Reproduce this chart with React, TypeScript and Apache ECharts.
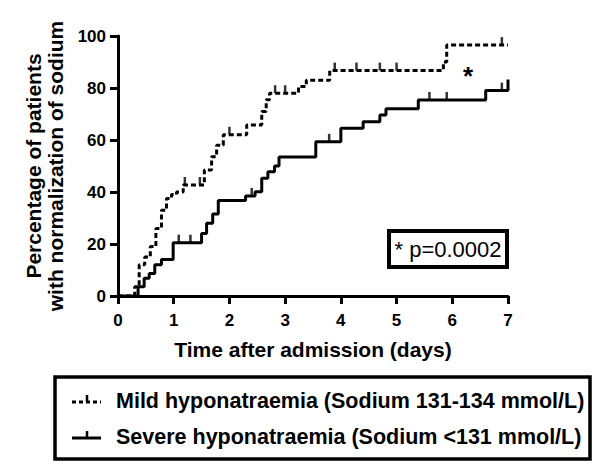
import React, { useEffect, useRef } from "react";
import * as echarts from "echarts";

// Mild hyponatraemia (dashed): event times (days) and cumulative % normalised
const mildTimes = [0, 0.3, 0.38, 0.48, 0.58, 0.68, 0.78, 0.87, 0.96, 1.05, 1.17, 1.55, 1.68, 1.77, 1.89, 2.31, 2.58, 2.66, 2.72, 3.24, 3.38, 3.8, 5.84, 5.9, 7.0];
const mildPct = [0, 3.6, 12, 15, 19, 26, 33, 37.5, 39, 40, 42.7, 48.5, 53.6, 58, 62, 65.8, 71, 75.5, 78, 80.6, 83, 86.7, 90, 96.5, 96.5];
const mildCensor = [1.2, 1.47, 2.0, 2.82, 3.0, 3.89, 4.28, 4.7, 5.0, 6.89];

// Severe hyponatraemia (solid)
const severeTimes = [0, 0.36, 0.47, 0.56, 0.66, 0.78, 0.99, 1.5, 1.59, 1.7, 1.8, 2.29, 2.46, 2.58, 2.69, 2.81, 2.89, 3.55, 4.0, 4.4, 4.7, 4.81, 5.39, 6.6, 7.0];
const severePct = [0, 3.6, 6.8, 8.7, 12, 14, 20.5, 24, 28, 31.5, 36.7, 38.5, 40.1, 45.3, 47.8, 50, 53.5, 59.3, 64.5, 67, 69.6, 72, 75.4, 79, 83.3];
const severeCensor = [1.09, 1.3, 2.4, 3.79, 5.59, 5.9, 6.89];

const xTicks = [0, 1, 2, 3, 4, 5, 6, 7];
const yTicks = [0, 20, 40, 60, 80, 100];

const legendLabels = [
  "Mild hyponatraemia (Sodium 131-134 mmol/L)",
  "Severe hyponatraemia (Sodium <131 mmol/L)",
];
const pText = "* p=0.0002";

const FONT = "'Liberation Sans', Arial, sans-serif";

function stepAt(times: number[], pct: number[], t: number): number {
  let v = 0;
  for (let i = 0; i < times.length; i++) if (times[i] <= t) v = pct[i];
  return v;
}

export default function App() {
  const ref = useRef<HTMLDivElement>(null);
  useEffect(() => {
    if (!ref.current) return;
    const chart = echarts.init(ref.current, null, { renderer: "svg" });
    const pair = (ts: number[], ps: number[]) => ts.map((t, i) => [t, ps[i]]);
    const censorPts = (cs: number[], ts: number[], ps: number[]) => cs.map((c) => [c, stepAt(ts, ps, c)]);
    const axisCommon = {
      axisLine: { lineStyle: { color: "#000", width: 3 } },
      axisTick: { length: 8, lineStyle: { color: "#000", width: 3 } },
      splitLine: { show: false },
    };
    const row1 = 401;
    const row2 = 437;
    chart.setOption({
      animation: false,
      backgroundColor: "#fff",
      grid: { left: 118, right: 92, top: 36, bottom: 171 },
      xAxis: {
        type: "value",
        min: xTicks[0],
        max: xTicks[xTicks.length - 1],
        interval: 1,
        ...axisCommon,
        axisLabel: { fontSize: 17, fontWeight: "bold", color: "#000", fontFamily: FONT, margin: 16 },
        name: "Time after admission (days)",
        nameLocation: "middle",
        nameGap: 43,
        nameTextStyle: { fontSize: 21, fontWeight: "bold", color: "#000", fontFamily: FONT },
      },
      yAxis: {
        type: "value",
        min: yTicks[0],
        max: yTicks[yTicks.length - 1],
        interval: 20,
        ...axisCommon,
        axisLabel: { fontSize: 17, fontWeight: "bold", color: "#000", fontFamily: FONT, margin: 12 },
        name: "Percentage of patients\nwith normalization of sodium",
        nameLocation: "middle",
        nameRotate: 90,
        nameGap: 52,
        nameTextStyle: { fontSize: 21, fontWeight: "bold", color: "#000", fontFamily: FONT, lineHeight: 22 },
      },
      series: [
        {
          name: legendLabels[0],
          type: "line",
          step: "end",
          data: pair(mildTimes, mildPct),
          symbol: "none",
          lineStyle: { color: "#000", width: 3, type: [5, 3] },
        },
        {
          name: legendLabels[1],
          type: "line",
          step: "end",
          data: pair(severeTimes, severePct),
          symbol: "none",
          lineStyle: { color: "#000", width: 3 },
        },
        {
          type: "scatter",
          data: censorPts(mildCensor, mildTimes, mildPct),
          symbol: "rect",
          symbolSize: [2.5, 8],
          symbolOffset: [0, -4],
          itemStyle: { color: "#000" },
        },
        {
          type: "scatter",
          data: censorPts(severeCensor, severeTimes, severePct),
          symbol: "rect",
          symbolSize: [2.5, 8],
          symbolOffset: [0, -4],
          itemStyle: { color: "#000" },
        },
      ],
      graphic: [
        {
          type: "text",
          x: 468,
          y: 76,
          style: { text: "*", font: `bold 26px ${FONT}`, fill: "#000", textAlign: "center", textVerticalAlign: "middle" },
        },
        {
          type: "rect",
          shape: { x: 389, y: 231, width: 118, height: 36 },
          style: { fill: "#fff", stroke: "#000", lineWidth: 4 },
        },
        {
          type: "text",
          x: 448,
          y: 249,
          style: { text: pText, font: `22px ${FONT}`, fill: "#000", textAlign: "center", textVerticalAlign: "middle" },
        },
        {
          type: "rect",
          shape: { x: 55, y: 377, width: 535, height: 82 },
          style: { fill: "#fff", stroke: "#000", lineWidth: 3.5 },
        },
        {
          type: "line",
          shape: { x1: 72, y1: row1 + 1, x2: 101, y2: row1 + 1 },
          style: { stroke: "#000", lineWidth: 3, lineDash: [4, 3] },
        },
        {
          type: "line",
          shape: { x1: 87, y1: row1 + 1, x2: 87, y2: row1 - 6 },
          style: { stroke: "#000", lineWidth: 2.5 },
        },
        {
          type: "line",
          shape: { x1: 72, y1: row2 + 1, x2: 101, y2: row2 + 1 },
          style: { stroke: "#000", lineWidth: 3 },
        },
        {
          type: "line",
          shape: { x1: 87, y1: row2 + 1, x2: 87, y2: row2 - 6 },
          style: { stroke: "#000", lineWidth: 2.5 },
        },
        {
          type: "text",
          x: 116,
          y: row1,
          style: { text: legendLabels[0], font: `bold 21.5px ${FONT}`, fill: "#000", textAlign: "left", textVerticalAlign: "middle" },
        },
        {
          type: "text",
          x: 116,
          y: row2,
          style: { text: legendLabels[1], font: `bold 21.5px ${FONT}`, fill: "#000", textAlign: "left", textVerticalAlign: "middle" },
        },
      ],
    });
    return () => chart.dispose();
  }, []);
  return (
    <div
      ref={ref}
      style={{ position: "fixed", left: 0, top: 0, width: 600, height: 467, background: "#fff" }}
    />
  );
}
